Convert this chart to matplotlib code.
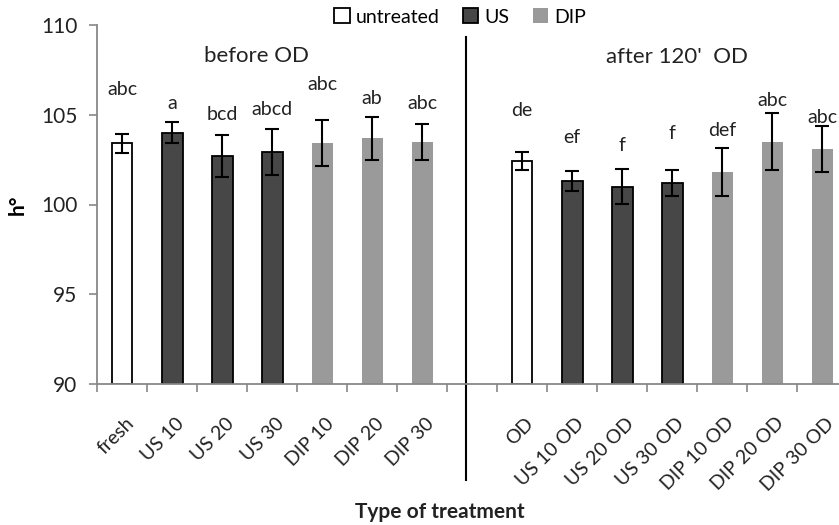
import matplotlib
matplotlib.use("Agg")
import matplotlib.pyplot as plt
from matplotlib.patches import Patch
from matplotlib.transforms import ScaledTranslation

categories = ["fresh", "US 10", "US 20", "US 30", "DIP 10", "DIP 20", "DIP 30", "",
              "OD", "US 10 OD", "US 20 OD", "US 30 OD", "DIP 10 OD", "DIP 20 OD", "DIP 30 OD"]
groups = ["untreated", "US", "US", "US", "DIP", "DIP", "DIP", None,
          "untreated", "US", "US", "US", "DIP", "DIP", "DIP"]
values = [103.4, 104.0, 102.7, 102.9, 103.4, 103.7, 103.5, None,
          102.4, 101.3, 101.0, 101.2, 101.8, 103.5, 103.1]
errors = [0.55, 0.57, 1.17, 1.28, 1.28, 1.2, 1.0, None,
          0.5, 0.56, 0.95, 0.7, 1.35, 1.6, 1.28]
letters = ["abc", "a", "bcd", "abcd", "abc", "ab", "abc", "",
           "de", "ef", "f", "f", "def", "abc", "abc"]
letter_y = [106.4, 105.65, 105.0, 105.27, 106.66, 105.93, 105.65, None,
            105.21, 103.76, 103.31, 103.93, 104.1, 105.82, 104.87]

fills = {"untreated": "white", "US": "#474747", "DIP": "#9a9a9a"}
edges = {"untreated": "black", "US": "black", "DIP": "none"}
widths = {"untreated": 0.4, "US": 0.42, "DIP": 0.42}

plt.rcParams['font.family'] = ["Lato", 'DejaVu Sans']
txt = "#222222"

fig = plt.figure(figsize=(8.39, 5.25), dpi=100)
ax = fig.add_axes([97/839, (525-384)/525, (847-97)/839, 359/525])

for i, (g, v, e) in enumerate(zip(groups, values, errors)):
    if g is None:
        continue
    ax.bar(i, v - 90, bottom=90, width=widths[g], color=fills[g],
           edgecolor=edges[g], linewidth=1.3, zorder=2)
    ax.errorbar(i, v, yerr=e, fmt="none", ecolor="black", elinewidth=1.5,
                capsize=5, capthick=1.5, zorder=3)
    ax.text(i, letter_y[i], letters[i], ha="center", va="center", fontsize=14,
            color=txt)

ax.set_ylim(90, 110)
ax.set_xlim(-0.5, len(categories) - 0.5)
ax.set_yticks([90, 95, 100, 105, 110])
ax.tick_params(axis="y", labelsize=15, length=6, color="#888888", width=1.2,
               labelcolor=txt, pad=8)
ax.set_xticks(range(len(categories)))
ax.set_xticklabels(categories, rotation=45, ha="right", rotation_mode="anchor",
                   fontsize=14, color=txt)
ax.tick_params(axis="x", length=0, pad=22)
off = ScaledTranslation(3/100, 0, fig.dpi_scale_trans)
for lab in ax.get_xticklabels():
    lab.set_transform(lab.get_transform() + off)
ax.set_xticks([i - 0.5 for i in range(len(categories) + 1)], minor=True)
ax.tick_params(axis="x", which="minor", length=6, color="#888888", width=1.2)

for s in ["top", "right"]:
    ax.spines[s].set_visible(False)
for s in ["left", "bottom"]:
    ax.spines[s].set_color("#888888")
    ax.spines[s].set_linewidth(1.3)

# divider
ax.plot([6.88, 6.88], [0.967, -0.267], color="black", lw=1.5,
        transform=ax.get_xaxis_transform(), clip_on=False)

ax.text(2.7, 0.915, "before OD", transform=ax.get_xaxis_transform(),
        ha="center", va="center", fontsize=16, color=txt)
ax.text(11.1, 0.91, "after 120'  OD", transform=ax.get_xaxis_transform(),
        ha="center", va="center", fontsize=16, color=txt)

fig.text(18/839, 1 - 205/525, "h°", rotation=90, ha="center", va="center",
         fontsize=15, fontweight="bold", color="black")

fig.text(440/839, 1 - 512/525, "Type of treatment", ha="center", va="center",
         fontsize=15, fontweight="bold", color=txt)

handles = [Patch(facecolor="white", edgecolor="black", linewidth=1.3),
           Patch(facecolor="#474747", edgecolor="black", linewidth=1.3),
           Patch(facecolor="#9a9a9a", edgecolor="none")]
fig.legend(handles, ["untreated", "US", "DIP"], loc="center",
           bbox_to_anchor=(460/839, 1 - 17/525), ncol=3, frameon=False,
           fontsize=14, handlelength=0.8, handleheight=0.8, handletextpad=0.3,
           columnspacing=1.2)

fig.savefig("out.png", dpi=100)
